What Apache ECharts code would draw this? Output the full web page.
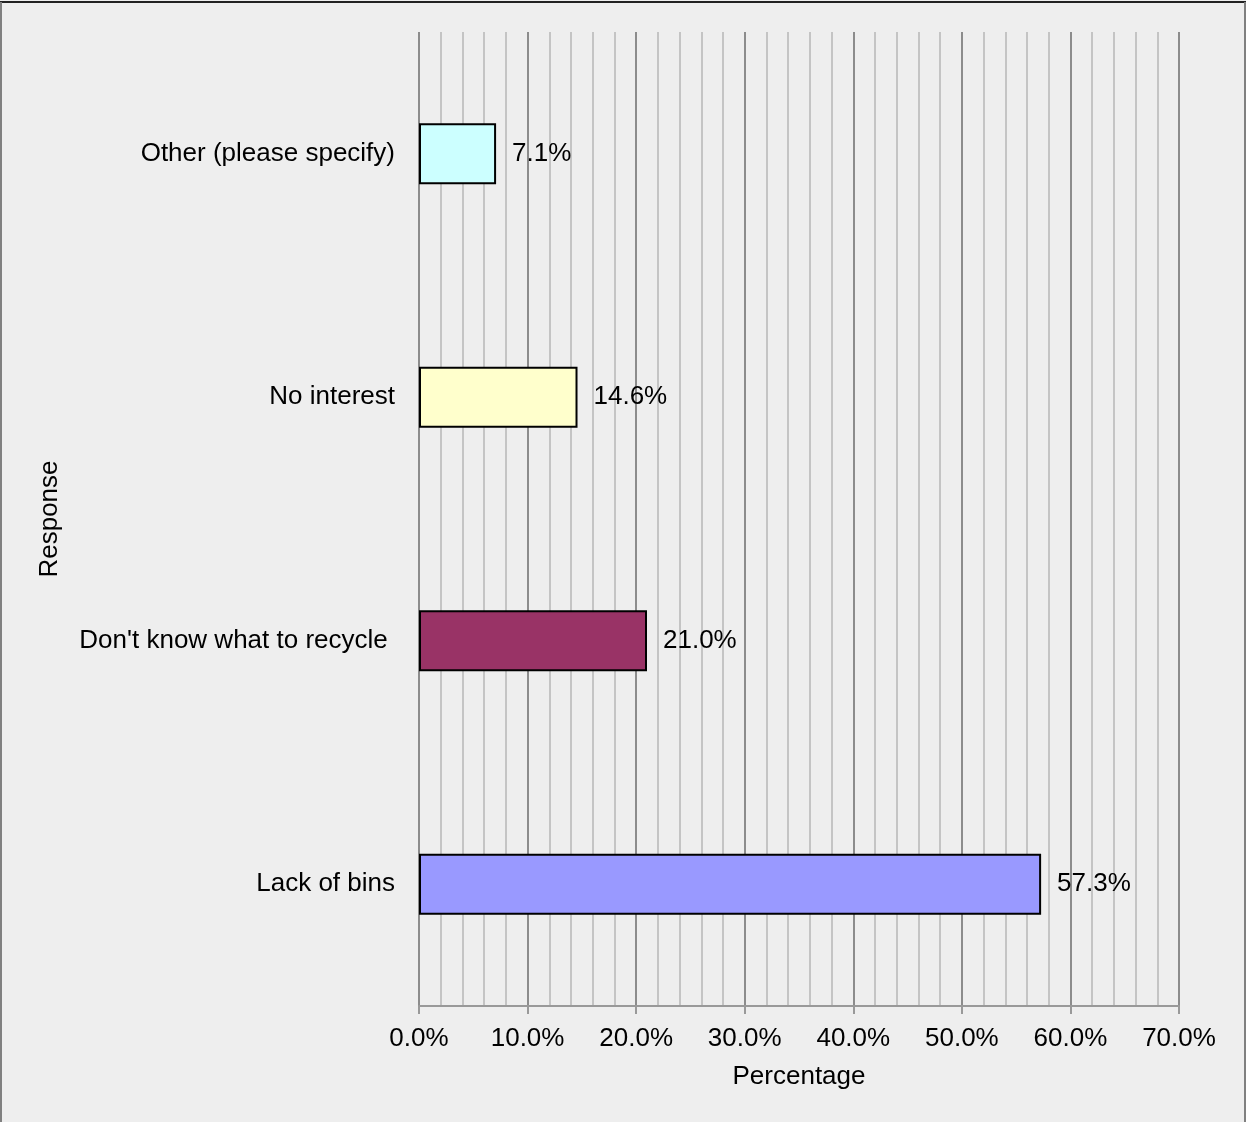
<!DOCTYPE html>
<html><head><meta charset="utf-8">
<script src="https://cdn.jsdelivr.net/npm/echarts@6/dist/echarts.min.js"></script>
<style>html,body{margin:0;padding:0;background:#eeeeee;}#c{width:1246px;height:1122px;}</style>
</head><body><div id="c"></div>
<script>
const categories = ["Lack of bins", "Don't know what to recycle ", "No interest", "Other (please specify)"];
const values = [57.3, 21.0, 14.6, 7.1];
const barColors = ["#9999ff", "#993366", "#ffffcc", "#ccffff"];
const xTicks = [0, 10, 20, 30, 40, 50, 60, 70];

const chart = echarts.init(document.getElementById('c'), null, {renderer: 'canvas'});
const font = "'Liberation Sans', Arial, sans-serif";
const fs = 26;
chart.setOption({
  backgroundColor: '#eeeeee',
  animation: false,
  textStyle: {fontFamily: font},
  grid: {left: 419, right: 67, top: 32, bottom: 116, containLabel: false},
  xAxis: {
    type: 'value', min: xTicks[0], max: xTicks[xTicks.length - 1], interval: 10,
    name: 'Percentage', nameLocation: 'middle', nameGap: 58,
    nameTextStyle: {fontSize: fs, color: '#000', fontFamily: font},
    axisLine: {show: true, lineStyle: {color: '#999', width: 2}},
    axisTick: {show: true, length: 8, lineStyle: {color: '#999', width: 2}},
    axisLabel: {fontSize: fs, color: '#000', margin: 20, fontFamily: font,
      formatter: v => v.toFixed(1) + '%'},
    splitLine: {show: true, lineStyle: {color: '#8c8c8c', width: 2}},
    minorTick: {show: false, splitNumber: 5},
    minorSplitLine: {show: true, lineStyle: {color: '#c4c4c4', width: 2}}
  },
  yAxis: {
    type: 'category', data: categories,
    name: 'Response', nameLocation: 'middle', nameGap: 356, nameRotate: 90,
    nameTextStyle: {fontSize: fs, color: '#000', fontFamily: font},
    axisLine: {show: false}, axisTick: {show: false},
    axisLabel: {fontSize: fs, color: '#000', margin: 24, fontFamily: font}
  },
  series: [{
    type: 'bar', barWidth: 61,
    data: values.map((v, i) => ({value: v, itemStyle: {color: barColors[i]}})),
    itemStyle: {borderColor: '#000', borderWidth: 2},
    label: {show: true, position: 'right', distance: 16, fontSize: fs, color: '#000',
      fontFamily: font, formatter: p => p.value.toFixed(1) + '%'}
  }],
  graphic: [
    {type: 'line', shape: {x1: 0, y1: 2, x2: 1246, y2: 2}, style: {stroke: '#222', lineWidth: 2}},
    {type: 'line', shape: {x1: 1, y1: 2, x2: 1, y2: 1122}, style: {stroke: '#808080', lineWidth: 2}},
    {type: 'line', shape: {x1: 1245, y1: 2, x2: 1245, y2: 1122}, style: {stroke: '#808080', lineWidth: 2}}
  ]
});
</script></body></html>
